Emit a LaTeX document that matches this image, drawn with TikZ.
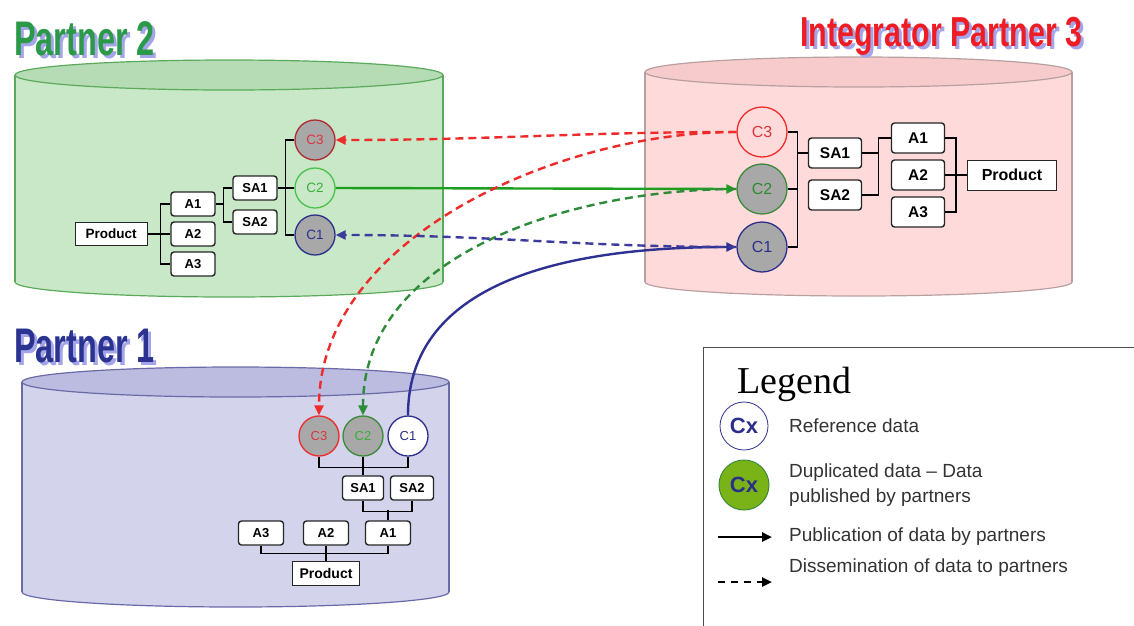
\documentclass[tikz,border=0pt]{standalone}
\usepackage{fontspec}
\setmainfont{Liberation Sans}
\newfontfamily\legende{Liberation Serif}
\usetikzlibrary{arrows.meta}

\definecolor{vertCorps}{HTML}{C8E8C8}
\definecolor{vertHaut}{HTML}{B6DCB6}
\definecolor{vertBord}{HTML}{5AAA5A}
\definecolor{roseCorps}{HTML}{FFDADA}
\definecolor{roseHaut}{HTML}{F7CBCB}
\definecolor{roseBord}{HTML}{B8A0A0}
\definecolor{bleuCorps}{HTML}{D3D3EC}
\definecolor{bleuHaut}{HTML}{BCBCE0}
\definecolor{bleuBord}{HTML}{6A6AA8}
\definecolor{grisR}{HTML}{A8A8A8}
\definecolor{rougeT}{HTML}{D9363E}
\definecolor{vertT}{HTML}{3AAE3A}
\definecolor{vertClair}{HTML}{4CC04C}
\definecolor{vertFonce}{HTML}{3A8A3A}
\definecolor{bleuT}{HTML}{2B2F8A}
\definecolor{rougeP}{HTML}{EE2A2A}
\definecolor{vertP}{HTML}{1E9E1E}
\definecolor{vertD}{HTML}{2E8B3A}
\definecolor{bleuP}{HTML}{2E3192}
\definecolor{bleuD}{HTML}{3B3B9B}
\definecolor{titreVert}{HTML}{2A9A48}
\definecolor{titreRouge}{HTML}{EE1C25}
\definecolor{titreBleu}{HTML}{2B3390}
\definecolor{ombre}{HTML}{A4A4E8}
\definecolor{vertCx}{HTML}{7AB317}
\definecolor{texteGris}{HTML}{333333}

\begin{document}
\begin{tikzpicture}[x=1pt, y=1pt,
	boite/.style={draw=black!85, fill=white, rounded corners=3pt, line width=1.4pt, inner sep=0pt, font=\fontsize{#1}{#1}\selectfont\bfseries},
	produit/.style={draw=black!85, fill=white, line width=1pt, inner sep=0pt, font=\fontsize{#1}{#1}\selectfont\bfseries},
	rond/.style={circle, line width=1.3pt, inner sep=0pt, font=\fontsize{#1}{#1}\selectfont},
	lien/.style={line width=1.1pt},
	publication/.style={line width=2.4pt, -{Triangle[length=10pt,width=9pt]}},
	diffusion/.style={line width=2.4pt, dash pattern=on 8pt off 5pt, -{Triangle[length=10pt,width=9pt]}},
	titre/.style={anchor=base west, inner sep=0pt, font=\fontsize{#1}{#1}\selectfont\bfseries},
	texteleg/.style={anchor=west, inner sep=0pt, text=texteGris, align=left, font=\fontsize{19}{25}\selectfont}]

		\useasboundingbox (0,0) rectangle (1134,-625);

		% cylindre partner 2
		\fill[vertCorps] (15,-75) rectangle (443,-282);
		\begin{scope}
			\clip (8,-282) rectangle (450,-300);
			\draw[fill=vertCorps, draw=vertBord, line width=1.2pt] (229,-282) ellipse [x radius=214, y radius=15];
		\end{scope}
		\draw[vertBord, line width=1.2pt] (15,-75) -- (15,-282) (443,-75) -- (443,-282);
		\draw[fill=vertHaut, draw=vertBord, line width=1.2pt] (229,-75) ellipse [x radius=214, y radius=15];

		% cylindre integrator partner 3
		\fill[roseCorps] (645,-72) rectangle (1072,-282);
		\begin{scope}
			\clip (638,-282) rectangle (1080,-300);
			\draw[fill=roseCorps, draw=roseBord, line width=1.2pt] (858.5,-282) ellipse [x radius=213.5, y radius=14];
		\end{scope}
		\draw[roseBord, line width=1.2pt] (645,-72) -- (645,-282) (1072,-72) -- (1072,-282);
		\draw[fill=roseHaut, draw=roseBord, line width=1.2pt] (858.5,-72) ellipse [x radius=213.5, y radius=15];

		% cylindre partner 1
		\fill[bleuCorps] (22,-382) rectangle (449,-592);
		\begin{scope}
			\clip (15,-592) rectangle (456,-612);
			\draw[fill=bleuCorps, draw=bleuBord, line width=1.2pt] (235.5,-592) ellipse [x radius=213.5, y radius=15];
		\end{scope}
		\draw[bleuBord, line width=1.2pt] (22,-382) -- (22,-592) (449,-382) -- (449,-592);
		\draw[fill=bleuHaut, draw=bleuBord, line width=1.2pt] (235.5,-382) ellipse [x radius=213.5, y radius=15];

		% titres
		\node[titre=36, text=ombre] (p2ombre) at (17,-58) {\scalebox{0.9}[1.35]{Partner 2}};
		\node[titre=36, text=titreVert] (p2titre) at (14,-55) {\scalebox{0.9}[1.35]{Partner 2}};
		\node[titre=32, text=ombre] (p3ombre) at (803,-49) {\scalebox{0.95}[1.31]{Integrator Partner 3}};
		\node[titre=32, text=titreRouge] (p3titre) at (800,-46) {\scalebox{0.95}[1.31]{Integrator Partner 3}};
		\node[titre=36, text=ombre] (p1ombre) at (17,-365) {\scalebox{0.9}[1.35]{Partner 1}};
		\node[titre=36, text=titreBleu] (p1titre) at (14,-362) {\scalebox{0.9}[1.35]{Partner 1}};

		% arbre partner 2
		\node[produit=13.5, minimum width=72, minimum height=23] (p2prod) at (111,-234) {Product};
		\node[boite=13, minimum width=44, minimum height=24] (p2a1) at (193,-204) {A1};
		\node[boite=13, minimum width=44, minimum height=24] (p2a2) at (193,-234) {A2};
		\node[boite=13, minimum width=44, minimum height=24] (p2a3) at (193,-264) {A3};
		\node[boite=13, minimum width=44, minimum height=24] (p2sa1) at (255,-188) {SA1};
		\node[boite=13, minimum width=44, minimum height=24] (p2sa2) at (255,-222) {SA2};
		\node[rond=13.5, minimum size=40, draw=rougeT!80!black, fill=grisR, text=rougeT] (p2c3) at (315,-140) {C3};
		\node[rond=13.5, minimum size=40, draw=vertClair, text=vertT] (p2c2) at (315,-188) {C2};
		\node[rond=13.5, minimum size=40, draw=bleuT, fill=grisR, text=bleuT] (p2c1) at (315,-235) {C1};

		\draw[lien] (p2prod.east) -- (p2a2.west);
		\draw[lien] (p2prod.east) -- +(13,0) |- (p2a1.west);
		\draw[lien] (p2prod.east) -- +(13,0) |- (p2a3.west);
		\draw[lien] (p2a1.east) -- +(8,0) |- (p2sa1.west);
		\draw[lien] (p2a1.east) -- +(8,0) |- (p2sa2.west);
		\draw[lien] (p2sa1.east) -- (p2c2.west);
		\draw[lien] (p2sa1.east) -- +(8,0) |- (p2c3.west);
		\draw[lien] (p2sa1.east) -- +(8,0) |- (p2c1.west);

		% arbre integrator partner 3
		\node[rond=16, minimum size=50, draw=rougeP] (p3c3) at (762,-132) {\color{rougeT}C3};
		\node[rond=16, minimum size=50, draw=vertFonce, fill=grisR, text=vertT!80!black] (p3c2) at (762,-189) {C2};
		\node[rond=16, minimum size=50, draw=bleuT, fill=grisR, text=bleuT] (p3c1) at (762,-247) {C1};
		\node[boite=15.5, minimum width=53, minimum height=30] (p3sa1) at (835,-153) {SA1};
		\node[boite=15.5, minimum width=53, minimum height=30] (p3sa2) at (835,-195) {SA2};
		\node[boite=15.5, minimum width=53, minimum height=30] (p3a1) at (918,-138) {A1};
		\node[boite=15.5, minimum width=53, minimum height=30] (p3a2) at (918,-175) {A2};
		\node[boite=15.5, minimum width=53, minimum height=30] (p3a3) at (918,-212) {A3};
		\node[produit=16, minimum width=89, minimum height=30] (p3prod) at (1012,-175) {Product};

		\draw[lien] (p3sa1.west) -- +(-10,0) |- (p3c3.east);
		\draw[lien] (p3sa1.west) -- +(-10,0) |- (p3c2.east);
		\draw[lien] (p3sa1.west) -- +(-10,0) |- (p3c1.east);
		\draw[lien] (p3sa1.east) -- +(16,0) |- (p3a1.west);
		\draw[lien] (p3sa2.east) -- +(16,0) |- (p3a1.west);
		\draw[lien] (p3prod.west) -- (p3a2.east);
		\draw[lien] (p3prod.west) -- +(-11,0) |- (p3a1.east);
		\draw[lien] (p3prod.west) -- +(-11,0) |- (p3a3.east);

		% arbre partner 1
		\node[rond=13, minimum size=40, draw=rougeP, fill=grisR, text=rougeT] (p1c3) at (319,-436) {C3};
		\node[rond=13, minimum size=40, draw=vertFonce, fill=grisR, text=vertT] (p1c2) at (363,-436) {C2};
		\node[rond=13, minimum size=40, draw=bleuT, fill=white, text=bleuT] (p1c1) at (408,-436) {C1};
		\node[boite=13, minimum width=41, minimum height=24] (p1sa1) at (363,-488) {SA1};
		\node[boite=13, minimum width=43, minimum height=24] (p1sa2) at (412,-488) {SA2};
		\node[boite=13, minimum width=45, minimum height=24] (p1a1) at (388,-533) {A1};
		\node[boite=13, minimum width=45, minimum height=24] (p1a2) at (326,-533) {A2};
		\node[boite=13, minimum width=45, minimum height=24] (p1a3) at (261,-533) {A3};
		\node[produit=14, minimum width=67, minimum height=24] (p1prod) at (326,-573) {Product};

		\draw[lien] (p1c3.south) -- +(0,-11) -| (p1c1.south);
		\draw[lien] (p1c2.south) -- (p1sa1.north);
		\draw[lien] (p1sa1.south) -- +(0,-11) -| (p1sa2.south);
		\draw[lien] (p1a1.north) -- +(0,10);
		\draw[lien] (p1a3.south) -- +(0,-8) -| (p1a1.south);
		\draw[lien] (p1a2.south) -- (p1prod.north);

		% fleches de publication
		\draw[publication, vertP] (p2c2.east) -- (p3c2.west);
		\draw[publication, bleuP] (p1c1.north) to[out=90, in=180, looseness=1] (p3c1.west);

		% fleches de diffusion
		\draw[diffusion, rougeP] (p3c3.west) to[out=180, in=0] (p2c3.east);
		\draw[diffusion, rougeP] (p3c3.west) to[out=180, in=90, looseness=0.9] (p1c3.north);
		\draw[diffusion, vertD] (p3c2.west) to[out=180, in=90, looseness=0.95] (p1c2.north);
		\draw[diffusion, bleuD] (p3c1.west) to[out=180, in=0] (p2c1.east);

		% legende
		\draw[black!70, line width=1pt] (703,-347) rectangle (1140,-630);
		\node[anchor=base west, inner sep=0pt, font=\legende\fontsize{38}{38}\selectfont] (leg) at (737,-393) {Legend};
		\node[rond=22, minimum size=48, line width=0.8pt, draw=bleuT, fill=white, text=bleuT, font=\fontsize{22}{22}\selectfont\bfseries] (cx1) at (744,-426) {Cx};
		\node[rond=22, minimum size=50, line width=1pt, draw=vertFonce, fill=vertCx, text=bleuT, font=\fontsize{22}{22}\selectfont\bfseries] (cx2) at (744,-485) {Cx};
		\node[texteleg] (ref) at (789,-426) {Reference data};
		\node[texteleg] (dup) at (789,-485) {Duplicated data -- Data\\published by partners};
		\node[texteleg] (pub) at (789,-537) {Publication of data by partners};
		\node[texteleg] (dis) at (789,-568) {Dissemination of data to partners};

		\coordinate (pubA) at (718,-537);
		\coordinate (pubB) at (772,-537);
		\draw[publication] (pubA) -- (pubB);
		\coordinate (disA) at (718,-582);
		\coordinate (disB) at (772,-582);
		\draw[diffusion, dash pattern=on 7pt off 6pt] (disA) -- (disB);

\end{tikzpicture}
\end{document}
